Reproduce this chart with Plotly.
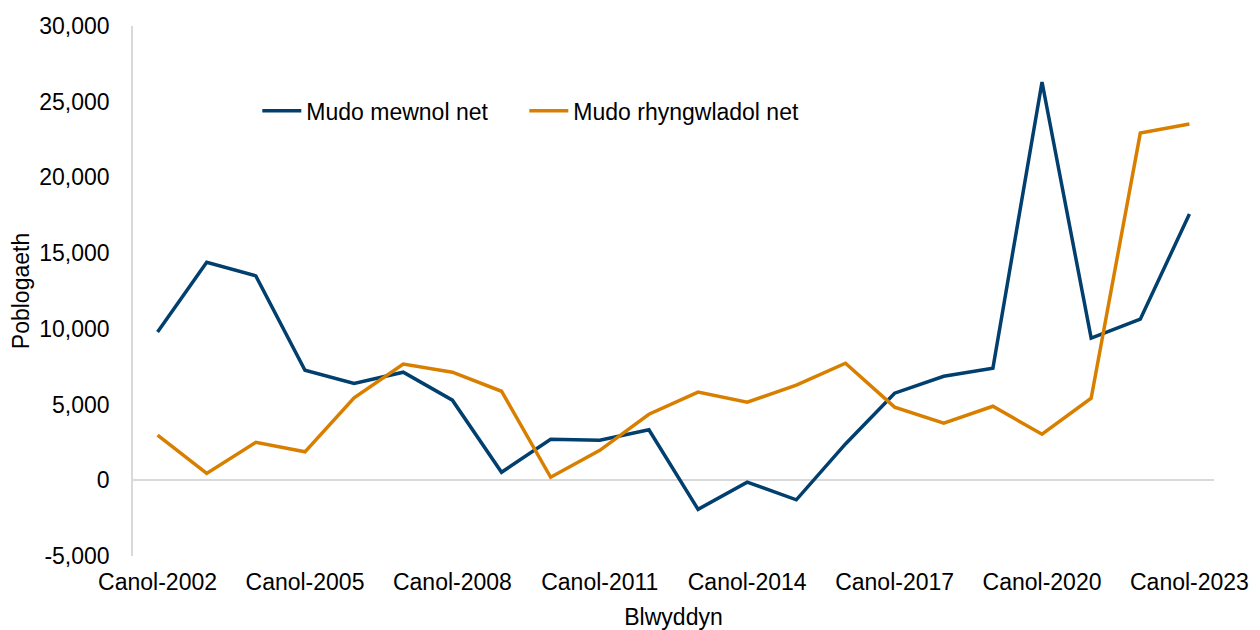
import plotly.graph_objects as go

years = list(range(2002, 2024))
categories = [f"Canol-{y}" for y in years]

mudo_mewnol = [9800, 14400, 13500, 7270, 6400, 7140, 5290, 530, 2710, 2640, 3340,
               -1920, -120, -1290, 2400, 5750, 6870, 7400, 26300, 9390, 10640, 17580]
mudo_rhyngwladol = [2980, 450, 2510, 1880, 5450, 7670, 7140, 5880, 200, 1980, 4360,
                    5820, 5160, 6280, 7730, 4830, 3770, 4890, 3040, 5420, 22930, 23530]

tick_labels = categories[::3]
y_ticks = [-5000, 0, 5000, 10000, 15000, 20000, 25000, 30000]
y_tick_text = [f"{v:,}" for v in y_ticks]

FONT = "Liberation Sans, Arial, sans-serif"

fig = go.Figure()
fig.add_trace(go.Scatter(x=categories, y=mudo_mewnol, mode="lines",
                         name="Mudo mewnol net", legend="legend",
                         line=dict(color="#003F6E", width=3.5)))
fig.add_trace(go.Scatter(x=categories, y=mudo_rhyngwladol, mode="lines",
                         name="Mudo rhyngwladol net", legend="legend2",
                         line=dict(color="#D97F00", width=3.5)))

legend_style = dict(orientation="h", y=0.84, xanchor="left", yanchor="middle",
                    bgcolor="rgba(0,0,0,0)", font=dict(size=23), itemwidth=39)

# page body has an 8px default margin, so the figure is sized to the visible area
fig.update_layout(
    width=1252, height=622,
    margin=dict(l=125, r=46, t=18, b=74),
    paper_bgcolor="white", plot_bgcolor="white",
    font=dict(family=FONT, size=23, color="#000000"),
    showlegend=True,
    legend=dict(x=0.115, **legend_style),
    legend2=dict(x=0.362, **legend_style),
    xaxis=dict(type="category", range=[-0.5, 21.5], automargin=False,
               tickvals=tick_labels, ticktext=tick_labels,
               showgrid=False, showline=False, zeroline=False, ticks="",
               ticklabelstandoff=10,
               tickfont=dict(size=23),
               title=dict(text="Blwyddyn", font=dict(size=23), standoff=14)),
    yaxis=dict(range=[-5000, 30000], tickvals=y_ticks, ticktext=y_tick_text,
               automargin=False,
               showgrid=False, showline=True, linecolor="#D9D9D9", linewidth=1.5,
               zeroline=True, zerolinecolor="#D9D9D9", zerolinewidth=1.5,
               ticks="", ticklabelstandoff=17,
               tickfont=dict(size=23),
               title=dict(text="Poblogaeth", font=dict(size=23), standoff=10)),
)

fig.write_html("out.html")
